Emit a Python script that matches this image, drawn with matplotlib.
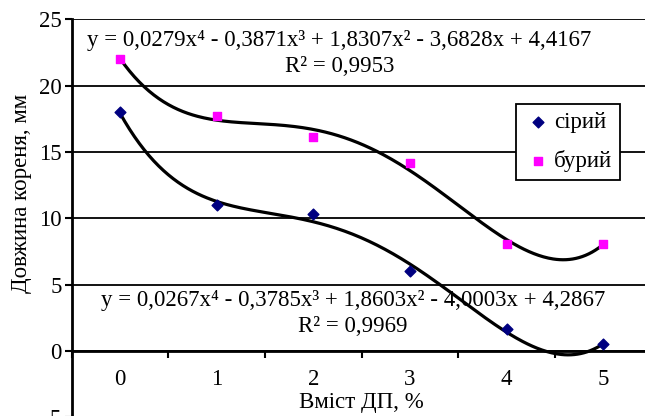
import numpy as np
import matplotlib
matplotlib.use("Agg")
import matplotlib.pyplot as plt
from matplotlib.ticker import MultipleLocator

plt.rcParams['font.family'] = ['Liberation Serif', 'DejaVu Serif']
plt.rcParams['font.size'] = 16.5

# дані
vmist = [0, 1, 2, 3, 4, 5]
siryi = [18.0, 11.0, 10.3, 6.0, 1.7, 0.5]
buryi = [22.0, 17.7, 16.1, 14.2, 8.1, 8.1]

eq_buryi = "y = 0,0279x\u2074 - 0,3871x\u00b3 + 1,8307x\u00b2 - 3,6828x + 4,4167\nR\u00b2 = 0,9953"
eq_siryi = "y = 0,0267x\u2074 - 0,3785x\u00b3 + 1,8603x\u00b2 - 4,0003x + 4,2867\nR\u00b2 = 0,9969"

fig = plt.figure(figsize=(6.45, 4.16), dpi=100)
ax = fig.add_axes([0.1109, -0.0034, 0.8994, 0.957])

x = np.array(vmist, dtype=float)
xs = np.linspace(x[0], x[-1], 300)
for ys in (siryi, buryi):
    c = np.polyfit(x, ys, 4)
    ax.plot(xs, np.polyval(c, xs), color='black', lw=2.3, zorder=3)

ax.scatter(vmist, siryi, marker='D', s=30, color='#000080', zorder=4, label='сірий')
ax.scatter(vmist, buryi, marker='s', s=32, color='#FF00FF', zorder=4, label='бурий')

ax.set_xlim(-0.5, 5.5)
ax.set_ylim(-5, 25)
ax.yaxis.set_major_locator(MultipleLocator(5))
ax.set_xticks(vmist)
ax.set_xticks(np.arange(-0.5, 6.0, 1.0), minor=True)
ax.tick_params(axis='x', which='major', length=0, pad=13)
ax.tick_params(axis='x', which='minor', length=5, width=1.5, direction='out')
ax.tick_params(axis='y', length=5, width=1.5, direction='out', pad=2)
ax.grid(axis='y', color='black', lw=1.3, zorder=1)

ax.spines['top'].set_visible(False)
ax.spines['right'].set_visible(False)
ax.spines['bottom'].set_position(('data', 0))
ax.spines['bottom'].set_linewidth(2)
ax.spines['left'].set_linewidth(2)

ax.text(2.27, 22.4, eq_buryi, ha='center', va='center', linespacing=1.32)
ax.text(2.41, 2.8, eq_siryi, ha='center', va='center', linespacing=1.32)
ax.text(2.5, -3.85, 'Вміст ДП, %', ha='center', va='center')
fig.text(0.034, 0.535, 'Довжина кореня, мм', rotation=90, ha='center', va='center')

leg = ax.legend(loc='upper left', bbox_to_anchor=(0.766, 0.788), frameon=True,
                fancybox=False, framealpha=1, edgecolor='black',
                handletextpad=0.1, handlelength=1.2, labelspacing=0.75,
                borderpad=0.35, borderaxespad=0, markerscale=1.0)
leg.get_frame().set_linewidth(1.3)

fig.savefig('out.png', dpi=100)
